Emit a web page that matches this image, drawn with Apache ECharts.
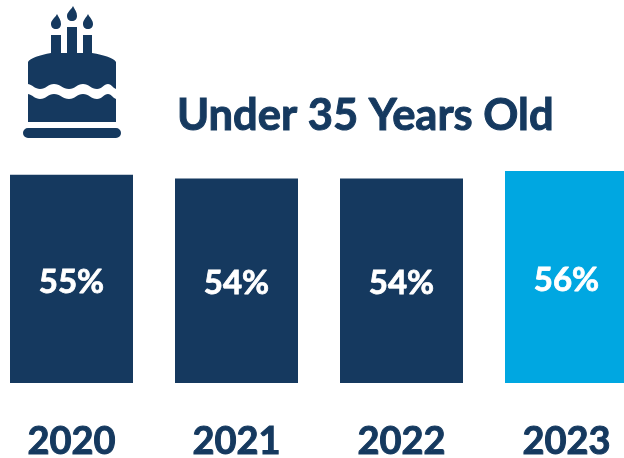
<!DOCTYPE html>
<html>
<head>
<meta charset="utf-8">
<style>html,body{margin:0;padding:0;background:#fff}#c{width:624px;height:458px}</style>
<script src="https://cdn.jsdelivr.net/npm/echarts@6/dist/echarts.min.js"></script>
</head>
<body>
<div id="c"></div>
<script>
const years = ['2020', '2021', '2022', '2023'];
const shares = [55, 54, 54, 56];
const barColors = ['#15395F', '#15395F', '#15395F', '#00A7E1'];
const heading = 'Under 35 Years Old';
const navy = '#15395F';
const fontStack = 'Lato, "Open Sans", sans-serif';

// Birthday cake icon: flames, candles, two tiers split by an icing wave, and a plate
const cakeParts = [
  'M57 14 C59 18 61 20 61 24 C61 27 59 29 56 29 C53 29 51 27 51 24 C51 20 55 18 57 14 Z',
  'M73 6 C75 10 77 12 77 16 C77 19 75 21 72 21 C69 21 67 19 67 16 C67 12 71 10 73 6 Z',
  'M88 14 C90 18 93 20 93 24 C93 27 91 29 88 29 C85 29 83 27 83 24 C83 20 86 18 88 14 Z',
  'M51 35 L61 35 L61 53 L51 53 Z',
  'M67 27 L77 27 L77 53 L67 53 Z',
  'M83 35 L92 35 L92 53 L83 53 Z',
  'M28 62 C30 58 40 55 51 53 L92 53 C104 55 114 58 116 62 L116 89 C112 87 111 84 108 84 C104 84 102 89 97 89 C91 89 89 84 83 84 C77 84 75 89 69 89 C63 89 60 84 54 84 C48 84 46 89 40 89 C35 89 33 85 28 84 Z',
  'M28 94 C33 95 35 99 40 99 C46 99 48 94 54 94 C60 94 63 99 69 99 C75 99 77 94 83 94 C89 94 91 99 97 99 C102 99 104 94 108 94 C111 94 112 97 116 99 L116 122 L28 122 Z',
  'M28 128 L116 128 A5 5 0 0 1 116 138 L28 138 A5 5 0 0 1 28 128 Z'
];
echarts.graphic.registerShape('cakeIcon', echarts.graphic.extendPath(cakeParts.join(' ')));

const chart = echarts.init(document.getElementById('c'), null, { renderer: 'canvas' });
chart.setOption({
  animation: false,
  backgroundColor: '#fff',
  title: {
    text: heading,
    left: 177,
    top: 94,
    padding: 0,
    textStyle: {
      color: navy, fontFamily: fontStack, fontWeight: 'bold', fontSize: 43.5,
      textBorderColor: navy, textBorderWidth: 1
    }
  },
  grid: { left: -11, width: 660, top: 171, height: 212, outerBoundsMode: 'none' },
  xAxis: {
    type: 'category',
    data: years,
    axisLine: { show: false },
    axisTick: { show: false },
    axisLabel: {
      color: navy,
      fontFamily: fontStack,
      fontWeight: 'bold',
      fontSize: 38,
      margin: 40,
      interval: 0,
      textBorderColor: navy,
      textBorderWidth: 1
    }
  },
  yAxis: { type: 'value', min: 0, max: 56, show: false },
  series: [{
    type: 'bar',
    barWidth: 123,
    data: shares.map((v, i) => ({ value: v, itemStyle: { color: barColors[i] } })),
    label: {
      show: true,
      position: 'inside',
      offset: [0, 3],
      formatter: '{c}%',
      color: '#fff',
      fontFamily: fontStack,
      fontWeight: 'bold',
      fontSize: 33,
      textBorderColor: '#fff',
      textBorderWidth: 0.8
    }
  }],
  graphic: [{ type: 'cakeIcon', shape: {}, style: { fill: navy } }]
});
</script>
</body>
</html>
